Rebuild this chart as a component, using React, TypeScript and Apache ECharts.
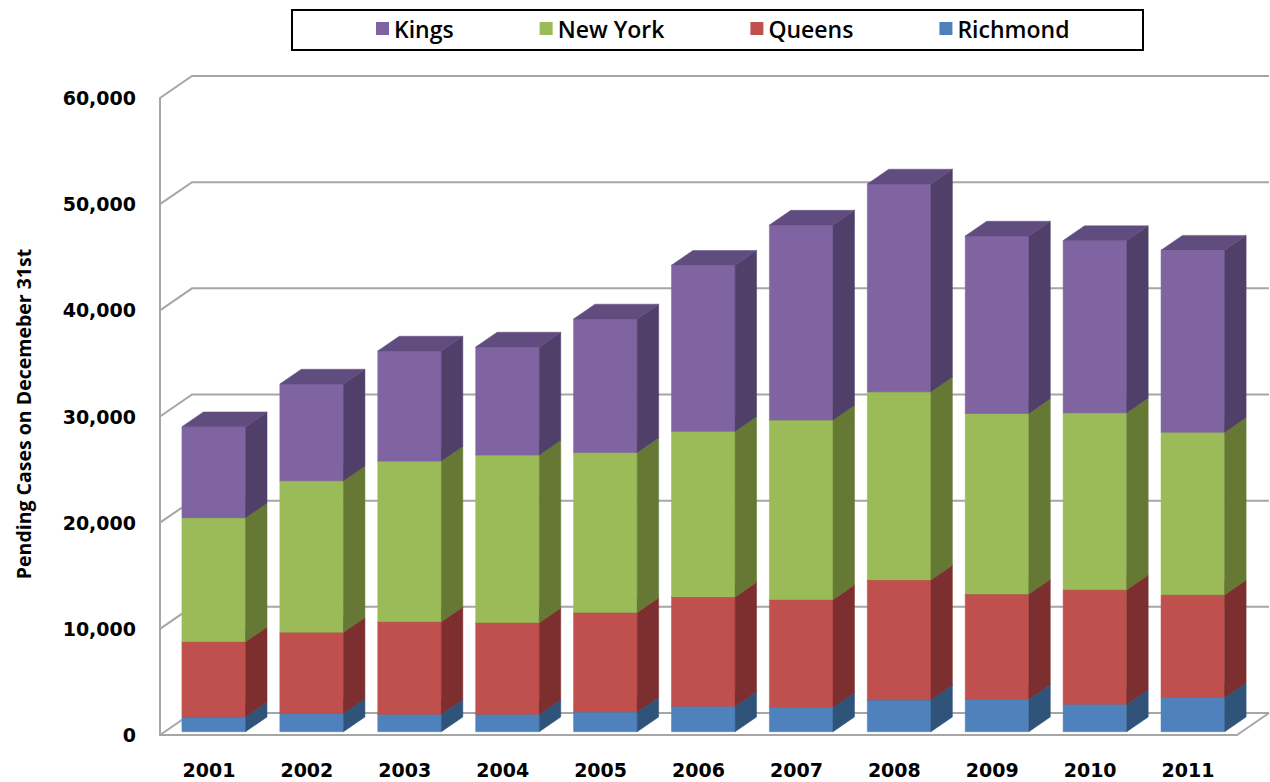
import React, { useEffect, useRef } from 'react';
import * as echarts from 'echarts';

const years = ['2001', '2002', '2003', '2004', '2005', '2006', '2007', '2008', '2009', '2010', '2011'];
const richmond = [1410, 1730, 1640, 1640, 1860, 2400, 2310, 3000, 3090, 2590, 3220];
const queens = [7070, 7630, 8720, 8630, 9360, 10290, 10130, 11300, 9870, 10770, 9670];
const newYork = [11680, 14280, 15140, 15800, 15090, 15610, 16920, 17720, 17020, 16680, 15320];
const kings = [8570, 9110, 10360, 10170, 12570, 15640, 18360, 19570, 16710, 16220, 17150];
const yTicks = [0, 10000, 20000, 30000, 40000, 50000, 60000];

const seriesDefs = [
  { name: 'Richmond', values: richmond, front: '#4F81BD', side: '#2F5379', top: '#3D6697' },
  { name: 'Queens', values: queens, front: '#C0504D', side: '#7C2F2E', top: '#9A3C3A' },
  { name: 'New York', values: newYork, front: '#9BBB59', side: '#657934', top: '#7A9444' },
  { name: 'Kings', values: kings, front: '#8064A2', side: '#4F3F69', top: '#604C7E' },
];
const legendOrder = ['Kings', 'New York', 'Queens', 'Richmond'];

const WALL_DX = 32;
const WALL_DY = 22;
const BAR_FRONT = 0.15;
const BAR_BACK = 0.82;
const BAR_RATIO = 0.65;
const GRID_COLOR = '#a6a6a6';

export default function App() {
  const ref = useRef<HTMLDivElement>(null);
  useEffect(() => {
    document.body.style.margin = '0';
    const chart = echarts.init(ref.current!, null, { renderer: 'svg' });

    const cum: number[] = years.map(() => 0);
    const barSeries = seriesDefs.map((def, si) => {
      const data = def.values.map((v, i) => {
        const lo = cum[i];
        const hi = lo + v;
        cum[i] = hi;
        return [i, lo, hi];
      });
      return {
        name: def.name,
        type: 'custom',
        z: 5 + si,
        itemStyle: { color: def.front },
        encode: { x: 0, y: [1, 2] },
        data,
        renderItem: (params: any, api: any) => {
          const idx = api.value(0);
          const lo = api.value(1);
          const hi = api.value(2);
          const pLo = api.coord([idx, lo]);
          const pHi = api.coord([idx, hi]);
          const band = api.size([1, 0])[0];
          const w = band * BAR_RATIO;
          const fx = BAR_FRONT * WALL_DX;
          const fy = -BAR_FRONT * WALL_DY;
          const bx = (BAR_BACK - BAR_FRONT) * WALL_DX;
          const by = -(BAR_BACK - BAR_FRONT) * WALL_DY;
          const x0 = pLo[0] - w / 2 + fx;
          const x1 = x0 + w;
          const yb = pLo[1] + fy;
          const yt = pHi[1] + fy;
          return {
            type: 'group',
            children: [
              { type: 'polygon', shape: { points: [[x0, yb], [x1, yb], [x1, yt], [x0, yt]] }, style: { fill: def.front, stroke: def.front, lineWidth: 0.5 } },
              { type: 'polygon', shape: { points: [[x1, yb], [x1 + bx, yb + by], [x1 + bx, yt + by], [x1, yt]] }, style: { fill: def.side, stroke: def.side, lineWidth: 0.5 } },
              { type: 'polygon', shape: { points: [[x0, yt], [x1, yt], [x1 + bx, yt + by], [x0 + bx, yt + by]] }, style: { fill: def.top, stroke: def.top, lineWidth: 0.5 } },
            ],
          };
        },
      };
    });

    const wallSeries = {
      name: 'wall',
      type: 'custom',
      z: 1,
      silent: true,
      encode: { x: 0, y: 1 },
      data: yTicks.map((v) => [0, v]),
      renderItem: (params: any, api: any) => {
        const v = api.value(1);
        const cs = params.coordSys;
        const p = api.coord([0, v]);
        const xl = cs.x;
        const xr = cs.x + cs.width;
        const y = p[1];
        const style = { stroke: GRID_COLOR, lineWidth: 2, fill: null };
        const children: any[] = [
          { type: 'polyline', shape: { points: [[xl, y], [xl + WALL_DX, y - WALL_DY], [xr + WALL_DX, y - WALL_DY]] }, style },
        ];
        if (v === 0) {
          children.push({ type: 'line', shape: { x1: xr, y1: y, x2: xr + WALL_DX, y2: y - WALL_DY }, style });
        }
        return { type: 'group', children };
      },
    };

    chart.setOption({
      animation: false,
      backgroundColor: '#ffffff',
      grid: { left: 160, right: 33, top: 98, bottom: 47 },
      legend: {
        data: legendOrder,
        left: 376,
        top: 17,
        padding: 0,
        itemGap: 86,
        itemWidth: 13,
        itemHeight: 13,
        icon: 'rect',
        textStyle: { fontFamily: 'Open Sans', fontWeight: 600, fontSize: 23, color: '#000' },
      },
      graphic: [
        { type: 'rect', z: 0, shape: { x: 292, y: 10, width: 851, height: 40 }, style: { fill: 'none', stroke: '#000', lineWidth: 2 } },
        {
          type: 'text',
          x: 23,
          y: 414,
          rotation: Math.PI / 2,
          style: {
            text: 'Pending Cases on Decemeber 31st',
            fontFamily: 'Open Sans',
            fontWeight: 'bold',
            fontSize: 19.5,
            fill: '#000',
            align: 'center',
            verticalAlign: 'middle',
          },
        },
      ],
      xAxis: {
        type: 'category',
        data: years,
        axisLine: { show: true, lineStyle: { color: GRID_COLOR, width: 2 } },
        axisTick: { show: false },
        splitLine: { show: false },
        axisLabel: { fontFamily: 'DejaVu Sans', fontWeight: 'bold', fontSize: 19, color: '#000', margin: 25 },
      },
      yAxis: {
        type: 'value',
        min: 0,
        max: 60000,
        interval: 10000,
        axisLine: { show: true, lineStyle: { color: GRID_COLOR, width: 2 } },
        axisTick: { show: false },
        splitLine: { show: false },
        axisLabel: {
          fontFamily: 'DejaVu Sans',
          fontWeight: 'bold',
          fontSize: 19,
          color: '#000',
          margin: 24,
          padding: [4, 0, 0, 0],
          formatter: (v: number) => v.toLocaleString('en-US'),
        },
      },
      series: [wallSeries, ...barSeries],
    });
    return () => chart.dispose();
  }, []);
  return <div ref={ref} style={{ width: 1270, height: 782 }} />;
}
